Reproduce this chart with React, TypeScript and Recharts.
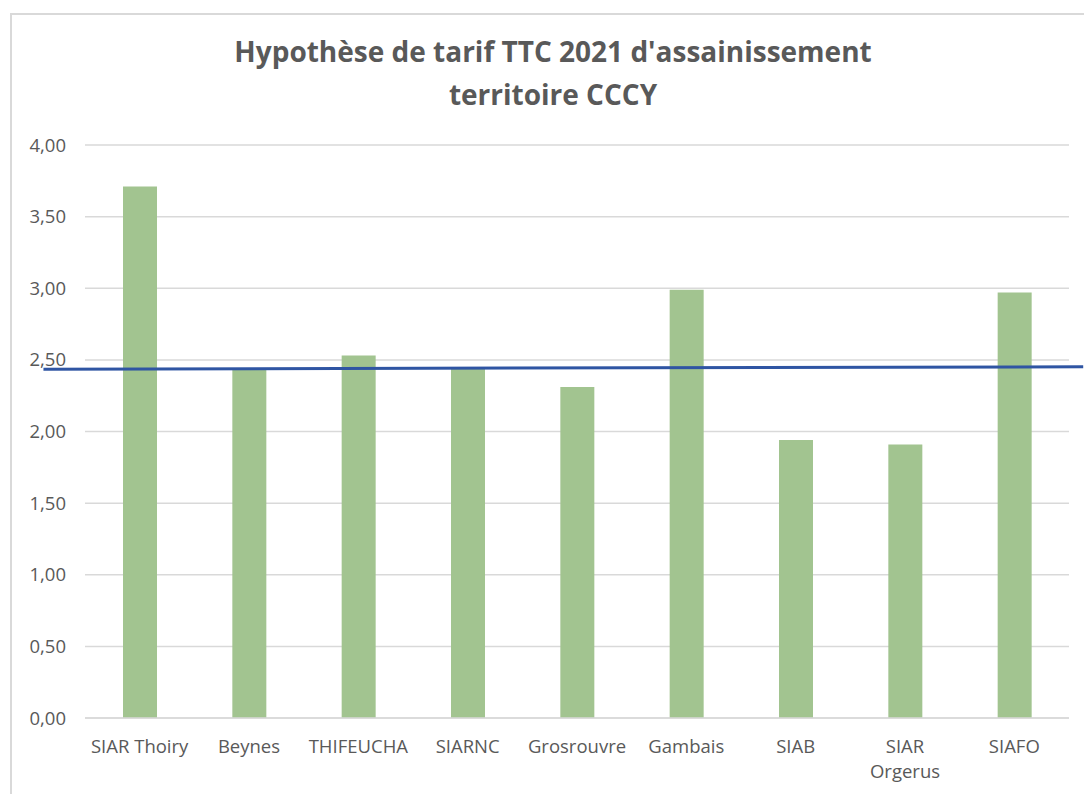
import React from "react";
import { ComposedChart, Bar, XAxis, YAxis, CartesianGrid, ReferenceLine } from "recharts";

const categories = ["SIAR Thoiry", "Beynes", "THIFEUCHA", "SIARNC", "Grosrouvre", "Gambais", "SIAB", "SIAR Orgerus", "SIAFO"];
const tickLabels = ["SIAR Thoiry", "Beynes", "THIFEUCHA", "SIARNC", "Grosrouvre", "Gambais", "SIAB", "SIAR\nOrgerus", "SIAFO"];
const tarifs = [3.71, 2.44, 2.53, 2.44, 2.31, 2.99, 1.94, 1.91, 2.97];
const yTicks = [0, 0.5, 1, 1.5, 2, 2.5, 3, 3.5, 4];
// reference line (drawn line across chart), in category-index units and value units
const lineX = [-0.38, 9.13];
const lineY = [2.435, 2.452];

const data = categories.map((c, i) => ({ name: c, label: tickLabels[i], idx: i + 0.5, tarif: tarifs[i] }));

const FONT = "'Open Sans', 'Noto Sans', sans-serif";
const GREY = "#595959";

const fmt = (v: number) => v.toFixed(2).replace(".", ",");

const CatTick = (props: any) => {
  const { x, y, payload } = props;
  const lines = String(tickLabels[payload.index] ?? payload.value).split("\n");
  return (
    <g transform={`translate(${x},${y})`}>
      <text textAnchor="middle" fill={GREY} fontFamily={FONT} fontSize={18.5}>
        {lines.map((l, i) => (
          <tspan key={i} x={0} dy={i === 0 ? 13 : 25}>{l}</tspan>
        ))}
      </text>
    </g>
  );
};

export default function App() {
  return (
    <div style={{ position: "absolute", left: 0, top: 0, width: 1084, height: 794, overflow: "hidden", background: "#fff" }}>
      <div style={{ position: "absolute", left: 10, top: 13, width: 1100, height: 820, border: "2px solid #d9d9d9", boxSizing: "border-box" }} />
      <div style={{ position: "absolute", left: 0, top: 30, width: 1106, textAlign: "center", fontFamily: FONT, fontWeight: 700, fontSize: 28, lineHeight: "43px", color: GREY }}>
        Hypothèse de tarif TTC 2021 d'assainissement
        <br />
        territoire CCCY
      </div>
      <div style={{ position: "absolute", left: 0, top: 0 }}>
        <ComposedChart width={1084} height={794} data={data} margin={{ top: 145, right: 15, bottom: 0, left: 0 }}>
          <CartesianGrid vertical={false} stroke="#d9d9d9" strokeWidth={1.5} />
          <XAxis
            dataKey="name"
            xAxisId="cat"
            tickLine={false}
            axisLine={{ stroke: "#d9d9d9", strokeWidth: 1.5 }}
            tick={<CatTick />}
            tickMargin={16}
            height={76}
            interval={0}
          />
          <XAxis xAxisId="line" dataKey="idx" type="number" domain={[0, 9]} allowDataOverflow hide />
          <YAxis
            domain={[0, 4]}
            ticks={yTicks}
            tickFormatter={fmt}
            axisLine={false}
            tickLine={false}
            tickMargin={13}
            width={85}
            tick={{ fill: GREY, fontFamily: FONT, fontSize: 18.5 }}
          />
          <Bar xAxisId="cat" dataKey="tarif" fill="#a2c490" barSize={34} isAnimationActive={false} />
          <ReferenceLine
            xAxisId="line"
            segment={[{ x: lineX[0], y: lineY[0] }, { x: lineX[1], y: lineY[1] }]}
            stroke="#2f55a3"
            strokeWidth={3}
            ifOverflow="visible"
          />
        </ComposedChart>
      </div>
    </div>
  );
}
